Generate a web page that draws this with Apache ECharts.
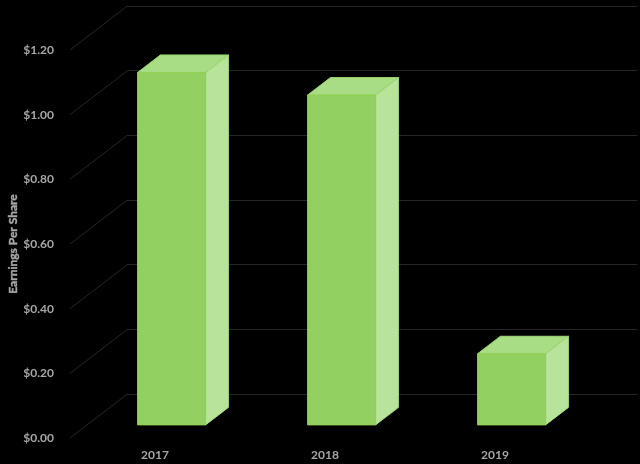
<!DOCTYPE html>
<html>
<head>
<meta charset="utf-8">
<style>html,body{margin:0;padding:0;background:#000}#c{width:640px;height:464px}</style>
<script src="https://cdn.jsdelivr.net/npm/echarts@6/dist/echarts.min.js"></script>
</head>
<body>
<div id="c"></div>
<script>
const categories = ['2017', '2018', '2019'];
const eps = [1.09, 1.02, 0.22];
const axisTicks = [0, 0.2, 0.4, 0.6, 0.8, 1.0, 1.2];
const axisTitle = 'Earnings Per Share';

const DX = 57, DY = -43.7;       // full floor depth on screen
const D_FRONT = 0.3, D_BACK = 0.7, BAR_W = 68;
const FONT = 'Lato, "Open Sans", sans-serif';
const GREY = '#a6a6a6';

const chart = echarts.init(document.getElementById('c'), null, {renderer: 'canvas'});

function renderBar(params, api) {
  const top = api.coord([api.value(0), api.value(1)]);
  const base = api.coord([api.value(0), 0]);
  const fx = DX * D_FRONT, fy = DY * D_FRONT;
  const bx = DX * (D_BACK - D_FRONT), by = DY * (D_BACK - D_FRONT);
  const l = top[0] + fx - BAR_W / 2 - 0.5, r = l + BAR_W;
  const t = top[1] + fy, b = base[1] + fy;
  return {
    type: 'group',
    children: [
      {type: 'polygon', shape: {points: [[r, t], [r + bx, t + by], [r + bx, b + by], [r, b]]},
       style: {fill: '#b7e39a', stroke: '#a4dc7c', lineWidth: 1}},
      {type: 'polygon', shape: {points: [[l, t], [l + bx, t + by], [r + bx, t + by], [r, t]]},
       style: {fill: '#a9dd85', stroke: '#9cd970', lineWidth: 1}},
      {type: 'rect', shape: {x: l, y: t, width: BAR_W, height: b - t},
       style: {fill: '#92d062', stroke: '#92d050', lineWidth: 1}}
    ]
  };
}

function renderDiagonal(params, api) {
  const p = api.coord([0, api.value(0)]);
  const half = api.size([1, 0])[0] / 2;
  return {
    type: 'line',
    shape: {x1: p[0] - half, y1: p[1], x2: p[0] - half + DX, y2: p[1] + DY},
    style: {stroke: '#262626', lineWidth: 1}
  };
}

chart.setOption({
  backgroundColor: '#000',
  animation: false,
  grid: [
    {left: 127, top: 6, width: 510, height: 388, outerBoundsMode: 'none'},
    {left: 70, top: 50, width: 510, height: 388, outerBoundsMode: 'none'}
  ],
  xAxis: [
    {gridIndex: 0, type: 'category', data: categories, show: false},
    {gridIndex: 1, type: 'category', data: categories,
     axisLine: {show: false}, axisTick: {show: false},
     axisLabel: {color: GREY, fontFamily: FONT, fontWeight: 'bold', fontSize: 12, margin: 11}}
  ],
  yAxis: [
    {gridIndex: 0, type: 'value', min: 0, max: 1.2, interval: 0.2,
     axisLine: {show: false}, axisTick: {show: false}, axisLabel: {show: false},
     splitLine: {show: true, lineStyle: {color: '#262626', width: 1}}},
    {gridIndex: 1, type: 'value', min: 0, max: 1.2, interval: 0.2,
     axisLine: {show: false}, axisTick: {show: false}, splitLine: {show: false},
     axisLabel: {color: GREY, fontFamily: FONT, fontWeight: 'bold', fontSize: 12, margin: 16,
                 formatter: v => '$' + v.toFixed(2)},
     name: axisTitle, nameLocation: 'middle', nameGap: 51, nameRotate: 90,
     nameMoveOverlap: false,
     nameTextStyle: {color: GREY, fontFamily: FONT, fontWeight: 'bold', fontSize: 12,
                     textBorderColor: GREY, textBorderWidth: 0.4}}
  ],
  series: [
    {type: 'custom', xAxisIndex: 1, yAxisIndex: 1, z: 1, silent: true,
     data: axisTicks.map(v => [v]), encode: {y: 0}, renderItem: renderDiagonal, clip: false},
    {type: 'custom', xAxisIndex: 1, yAxisIndex: 1, z: 3, silent: true,
     data: categories.map((c, i) => [i, eps[i]]), encode: {x: 0, y: 1}, renderItem: renderBar, clip: false}
  ]
});
</script>
</body>
</html>
